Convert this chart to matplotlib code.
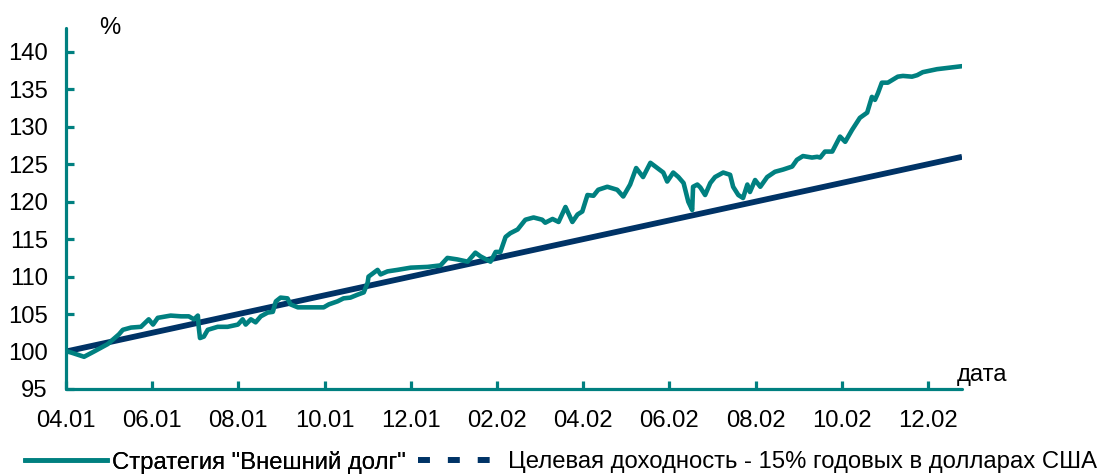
import matplotlib
matplotlib.use("Agg")
import matplotlib.pyplot as plt
from matplotlib.lines import Line2D

plt.rcParams['font.family'] = ['Liberation Sans', 'DejaVu Sans']

# months since 04.2001
strategy_months = [
    0.00, 0.05, 0.42, 0.65, 0.97, 1.23, 1.32, 1.51, 1.74, 1.85, 1.92, 2.02, 2.13,
    2.43, 2.67, 2.85, 2.97, 3.06, 3.08, 3.11, 3.20, 3.29, 3.52, 3.75, 3.99, 4.10,
    4.17, 4.29, 4.40, 4.52, 4.68, 4.80, 4.87, 4.98, 5.14, 5.21, 5.38, 5.68, 5.98,
    6.10, 6.30, 6.44, 6.60, 6.77, 6.91, 7.00, 7.02, 7.23, 7.30, 7.46, 7.69, 8.00,
    8.39, 8.69, 8.85, 9.08, 9.32, 9.50, 9.62, 9.85, 9.97, 10.08, 10.20, 10.31,
    10.48, 10.66, 10.85, 11.05, 11.12, 11.29, 11.43, 11.59, 11.75, 11.87, 11.98,
    12.10, 12.24, 12.35, 12.56, 12.79, 12.93, 13.09, 13.23, 13.39, 13.56, 13.72,
    13.86, 13.95, 14.09, 14.21, 14.33, 14.44, 14.53, 14.55, 14.65, 14.72, 14.83,
    14.95, 15.06, 15.25, 15.41, 15.48, 15.60, 15.71, 15.81, 15.87, 15.99, 16.11,
    16.27, 16.45, 16.64, 16.85, 16.96, 17.10, 17.31, 17.43, 17.50, 17.61, 17.78,
    17.96, 18.08, 18.24, 18.42, 18.59, 18.70, 18.77, 18.84, 18.93, 19.07, 19.30,
    19.42, 19.63, 19.75, 19.88, 20.21, 20.51, 20.79,
]
strategy_values = [
    100.0, 100.0, 99.3, 100.0, 101.0, 102.3, 102.9, 103.2, 103.3, 103.9, 104.3,
    103.6, 104.5, 104.8, 104.7, 104.7, 104.3, 104.8, 103.3, 101.8, 102.0, 102.9,
    103.3, 103.3, 103.6, 104.3, 103.6, 104.3, 103.9, 104.7, 105.2, 105.3, 106.7,
    107.2, 107.1, 106.3, 105.9, 105.9, 105.9, 106.3, 106.7, 107.1, 107.2, 107.6,
    107.9, 109.2, 110.0, 110.9, 110.3, 110.7, 110.9, 111.2, 111.3, 111.5, 112.5,
    112.3, 112.0, 113.2, 112.7, 112.0, 113.3, 113.3, 115.3, 115.8, 116.3, 117.6,
    117.9, 117.6, 117.2, 117.7, 117.3, 119.3, 117.3, 118.3, 118.7, 120.9, 120.8,
    121.6, 122.0, 121.6, 120.7, 122.3, 124.5, 123.3, 125.2, 124.5, 123.9, 122.7,
    123.9, 123.3, 122.5, 120.0, 118.9, 122.0, 122.3, 121.9, 120.9, 122.5, 123.3,
    123.9, 123.6, 122.0, 120.9, 120.5, 122.3, 121.3, 122.9, 122.0, 123.3, 124.0,
    124.3, 124.7, 125.6, 126.1, 125.9, 126.0, 125.9, 126.7, 126.7, 128.7, 128.0,
    129.6, 131.2, 131.9, 134.0, 133.6, 134.5, 135.9, 135.9, 136.7, 136.8, 136.7,
    136.9, 137.3, 137.7, 137.9, 138.1,
]

target_months = [0.0, 20.79]
target_values = [100.0, 126.0]

tick_months = [0, 2, 4, 6, 8, 10, 12, 14, 16, 18, 20]
tick_labels = ['04.01', '06.01', '08.01', '10.01', '12.01', '02.02',
               '04.02', '06.02', '08.02', '10.02', '12.02']

teal = '#008080'
navy = '#003366'
fs = 17.2

fig = plt.figure(figsize=(11.16, 4.76), dpi=100)
ax = fig.add_axes([0.0591, 0.1828, 0.8029, 0.7584])

ax.plot(target_months, target_values, color=navy, lw=4.2, solid_capstyle='butt')
ax.plot(strategy_months, strategy_values, color=teal, lw=3.3,
        solid_joinstyle='round', solid_capstyle='round')

ax.set_xlim(0, 20.79)
ax.set_ylim(95, 143.2)
ax.set_xticks(tick_months)
ax.set_xticklabels(tick_labels)
ax.set_yticks(range(95, 141, 5))

for side in ('top', 'right'):
    ax.spines[side].set_visible(False)
for side in ('left', 'bottom'):
    ax.spines[side].set_color(teal)
    ax.spines[side].set_linewidth(2.3)
    ax.spines[side].set_capstyle('round')

ax.tick_params(axis='both', direction='in', length=6, width=2.3,
               color=teal, labelsize=fs, labelcolor='black')
ax.tick_params(axis='y', pad=13)
ax.tick_params(axis='x', pad=15)

ax.text(0.049, 1.0, '%', transform=ax.transAxes, fontsize=fs,
        ha='center', va='center')
ax.text(0.994, 0.04, 'дата', transform=ax.transAxes, fontsize=fs,
        ha='left', va='center')

# legend below the chart
h1 = Line2D([], [], color=teal, lw=3.3)
h2 = Line2D([], [], color=navy, lw=4.3, linestyle=(0, (2, 3)),
            dash_capstyle='butt')
leg1 = fig.legend([h1], ['Стратегия "Внешний долг"'], loc='center left',
                  bbox_to_anchor=(0.0224, 0.029), frameon=False, fontsize=fs,
                  handlelength=3.43, handletextpad=0.2, borderpad=0,
                  borderaxespad=0)
fig.legend([h2], ['Целевая доходность - 15% годовых в долларах США'],
           loc='center left', bbox_to_anchor=(0.3746, 0.029), frameon=False,
           fontsize=fs, handlelength=3.1, handletextpad=0.67, borderpad=0,
           borderaxespad=0)
fig.add_artist(leg1)

fig.savefig('out.png', dpi=100)
